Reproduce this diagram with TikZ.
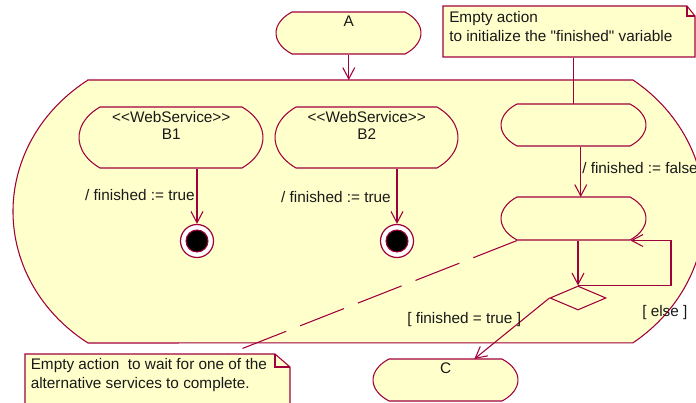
\documentclass[tikz,border=0pt]{standalone}
\usepackage{fontspec}
\setmainfont{Liberation Sans}[Ligatures=TeXOff]
\usetikzlibrary{arrows.meta,calc,shapes.geometric}
\definecolor{rose}{RGB}{160,0,60}
\definecolor{pale}{RGB}{255,255,204}
\definecolor{ink}{RGB}{25,25,25}
\tikzset{
  shapeline/.style={draw=rose, line width=0.8pt, fill=pale},
  conn/.style={draw=rose, line width=0.8pt},
  arr/.style={conn, -{Straight Barb[length=8.5pt,width=9pt,line width=0.8pt]}},
  areabox/.style={rectangle, draw=none, inner sep=0pt, anchor=north west},
  txt/.style={font=\fontsize{11.5}{13}\selectfont, text=ink, inner sep=0pt},
  notefont/.style={font=\fontsize{11.5}{14}\selectfont},
  finalring/.style={circle, draw=rose, line width=0.9pt, fill=white, minimum size=24.75pt, inner sep=0pt},
  choice/.style={diamond, draw=rose, line width=0.8pt, fill=pale, minimum width=42pt, minimum height=18pt, inner sep=0pt},
}
\newcommand\activity[7]{%
  \path[shapeline] (#4-#6,#3) arc[start angle=-48.19, end angle=48.19, x radius={3*#6}, y radius={1.3416*(#5-#3)/2}] -- (#2+#6,#5) arc[start angle=131.81, end angle=228.19, x radius={3*#6}, y radius={1.3416*(#5-#3)/2}] -- cycle;
  \node[areabox, minimum width={(#4-#2)*0.75pt}, minimum height={(#5-#3)*0.75pt}] (#1) at (#2,#3) {};
  \node[txt, anchor=north, align=center] (#1-t) at ($(#1.north)+(0,4)$) {#7};
}
\begin{document}
\begin{tikzpicture}[x=0.75pt, y=-0.75pt]
\useasboundingbox (0,0) rectangle (696,403);
% interruptible region
\path[shapeline] (88,80) -- (633,80) arc[start angle=-54.4, end angle=54.4, x radius=172, y radius=161.6] -- (88,343) arc[start angle=124.85, end angle=235.15, x radius=175, y radius=160.2] -- cycle;
\node[areabox, minimum width=408.75pt, minimum height=197.25pt] (region) at (88,80) {};
% A
\activity{A}{276}{12}{421}{54}{16}{A}
% note 1
\path[shapeline] (443,6) -- (687,6) -- (695,16) -- (695,57) -- (443,57) -- cycle;
\draw[conn] (687,6) -- (687,16) -- (695,16);
\node[areabox, minimum width=189pt, minimum height=38.25pt] (n1) at (443,6) {};
\node[txt, notefont, anchor=north west, align=left] (n1-t) at ($(n1.north west)+(6,5)$) {Empty action\\to initialize the "finished" variable};
% activities
\activity{B1}{79}{107}{263}{168}{21}{<<WebService>>\\B1}
\activity{B2}{275}{107}{458}{168}{21}{<<WebService>>\\B2}
\activity{init}{501}{104}{646}{146}{16}{}
\activity{wait}{501}{197}{646}{240}{16}{}
\activity{C}{373}{359}{518}{401}{16}{C}
% note 2
\path[shapeline] (25,354) -- (275,354) -- (290,367) -- (290,410) -- (25,410) -- cycle;
\draw[conn] (275,354) -- (275,367) -- (290,367);
\node[areabox, minimum width=198.75pt, minimum height=42pt] (n2) at (25,354) {};
\node[txt, notefont, anchor=north west, align=left] (n2-t) at ($(n2.north west)+(5.5,4)$) {Empty action~ to wait for one of the\\alternative services to complete.};
% final states
\node[finalring] (f1) at (197,241) {};
\path[fill=black, draw=rose, line width=0.8pt] (f1.center) circle[radius=11];
\node[finalring] (f2) at (397,241) {};
\path[fill=black, draw=rose, line width=0.8pt] (f2.center) circle[radius=11];
% decision
\node[choice] (dia) at (578,298) {};
% connectors
\draw[arr] (A.south) -- (A.south |- region.north);
\draw[conn] (n1.south -| init.north) -- (init.north);
\draw[arr] ($(init.south)+(7,0)$) -- ($(wait.north)+(7,0)$);
\draw[arr] (B1.south -| f1.north) -- (f1.north);
\draw[arr] (B2.south -| f2.north) -- (f2.north);
\draw[arr] (wait.south -| dia.north) -- (dia.north);
\draw[arr] (dia.north) -- ++(93,0) |- ($(wait.south east)+(-16,0)$);
\draw[arr] (dia.west) -- ($(C.north)!0.393!(C.north east)$);
\draw[conn, dash pattern=on 35.25pt off 11.25pt] ($(wait.south west)+(16,0)$) -- ($(n2.north west)!0.766!(n2.north east)$);
% labels
\node[txt, anchor=base east] (l1) at (195,200) {/ finished := true};
\node[txt, anchor=base east] (l2) at (391,202) {/ finished := true};
\node[txt, anchor=base west] (l3) at (582,173) {/ finished := false};
\node[txt, anchor=base west] (l4) at (407,323) {[ finished = true ]};
\node[txt, anchor=base west] (l5) at (642,316) {[ else ]};
\end{tikzpicture}
\end{document}
